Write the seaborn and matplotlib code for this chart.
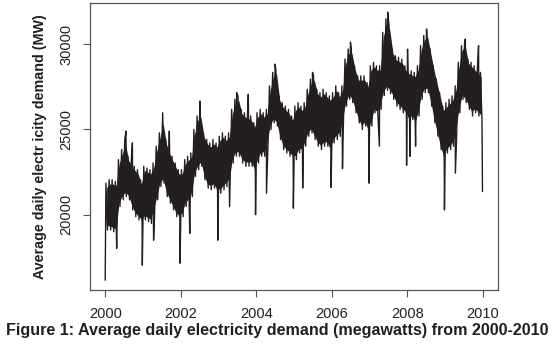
import numpy as np
import pandas as pd
import matplotlib
matplotlib.use("Agg")
import matplotlib.pyplot as plt
import matplotlib.dates as mdates
import seaborn as sns

# monthly envelope of the daily series (MW), Jan 2000 .. Dec 2009
upper_vals = [
    21850, 22050, 22050, 21950, 23230, 23820, 24410, 23430, 23030, 22840, 22640, 22050,
    22840, 22740, 22640, 23030, 24020, 24800, 25590, 24410, 23820, 23430, 23030, 22640,
    22640, 23230, 23430, 23620, 25000, 25790, 25980, 24800, 24410, 24210, 24410, 24210,
    24600, 24800, 24600, 24800, 26180, 26770, 26970, 26180, 25980, 25890, 25790, 25390,
    25980, 26180, 25980, 26180, 27560, 28350, 28540, 26970, 26570, 26370, 26180, 25790,
    26370, 26570, 26370, 26570, 27360, 27950, 28150, 27360, 27160, 27360, 27160, 26970,
    27160, 27560, 27160, 27560, 29130, 29720, 29720, 28740, 28150, 28150, 28150, 27750,
    28740, 28940, 28740, 28740, 30700, 31490, 31100, 29720, 29330, 29230, 29130, 28740,
    28540, 28440, 28350, 28740, 29920, 30510, 30700, 29720, 28740, 27950, 27160, 26370,
    26570, 26770, 26970, 27560, 28940, 29920, 30120, 29130, 28940, 28740, 28540, 28350,
]
lower_vals = [
    19100, 19100, 19000, 18900, 20480, 20870, 21060, 20870, 20280, 19880, 19690, 19490,
    19690, 19590, 19490, 20080, 20870, 21650, 21850, 21060, 20670, 20280, 19880, 19690,
    19880, 20480, 20670, 21060, 22250, 22640, 22840, 22050, 21560, 21460, 21560, 21260,
    21260, 21460, 21650, 21850, 23030, 23430, 23430, 23030, 22840, 22840, 22840, 22450,
    23030, 23430, 23430, 24020, 25000, 25390, 25200, 24410, 23820, 23620, 23430, 23230,
    23230, 23620, 23620, 24020, 24600, 24800, 24410, 24020, 23820, 24020, 24020, 23620,
    24210, 24410, 24600, 25390, 26370, 26770, 26570, 25980, 25390, 25000, 25200, 24800,
    25200, 25980, 25790, 26180, 27000, 27300, 27100, 26770, 26370, 26180, 25980, 25790,
    25390, 25590, 25200, 25790, 26770, 27160, 27160, 26370, 25390, 24600, 23820, 23230,
    23620, 23820, 24020, 24800, 25980, 26770, 26570, 26180, 25790, 25980, 25790, 25590,
]

# single-day spikes (holidays and peak days)
spike_dates = [
    "2000-01-01", "2000-04-21", "2000-07-20", "2000-09-20", "2000-12-25",
    "2001-04-13", "2001-07-10", "2001-09-12", "2001-12-25",
    "2002-03-29", "2002-07-05", "2002-12-25",
    "2003-04-18", "2003-06-25", "2003-10-16", "2003-12-25",
    "2004-04-09", "2004-07-01", "2004-12-25",
    "2005-03-25", "2005-06-28", "2005-12-25",
    "2006-04-14", "2006-06-30", "2006-12-25",
    "2007-04-06", "2007-06-25", "2007-12-25",
    "2008-01-03", "2008-01-26", "2008-03-21", "2008-07-05", "2008-12-25",
    "2009-04-10", "2009-07-15", "2009-11-20", "2009-12-28",
]
spike_vals = [
    16150, 18020, 24900, 24210, 17030,
    18500, 25980, 24900, 17150,
    18900, 26670, 18500,
    20470, 27160, 27070, 20000,
    21260, 28840, 20380,
    21560, 28350, 21600,
    22700, 30120, 21850,
    24020, 31890, 22900,
    29720, 23420, 24020, 30900, 20280,
    22440, 30310, 29920, 21360,
]

INK = "#231f20"


def main() -> None:
    months = pd.date_range("2000-01-01", "2009-12-01", freq="MS")
    env = pd.concat([
        pd.DataFrame({"date": months + pd.Timedelta(days=7), "demand": upper_vals}),
        pd.DataFrame({"date": months + pd.Timedelta(days=22), "demand": lower_vals}),
        pd.DataFrame({"date": pd.to_datetime(spike_dates), "demand": spike_vals}),
    ]).sort_values("date").reset_index(drop=True)
    band = pd.DataFrame({"date": months + pd.Timedelta(days=14),
                         "upper": upper_vals, "lower": lower_vals})

    sns.set_style("ticks")
    plt.rcParams["font.family"] = ["Liberation Sans", "DejaVu Sans"]

    fig = plt.figure(figsize=(5.55, 3.48), dpi=100)
    ax = fig.add_axes([90 / 555, 1 - 290 / 348, 408 / 555, 287 / 348])
    ax.fill_between(band["date"], band["lower"] + 250, band["upper"] - 250,
                    color=INK, linewidth=0)
    sns.lineplot(data=env, x="date", y="demand", ax=ax, estimator=None, sort=True,
                 color=INK, linewidth=1.0)

    ax.set_xlim(pd.Timestamp("1999-08-07"), pd.Timestamp("2010-05-27"))
    ax.set_ylim(15576, 32424)
    ax.xaxis.set_major_locator(mdates.YearLocator(2))
    ax.xaxis.set_major_formatter(mdates.DateFormatter("%Y"))
    ax.set_yticks([20000, 25000, 30000])
    for lbl in ax.get_yticklabels():
        lbl.set_rotation(90)
        lbl.set_va("center")
    ax.tick_params(axis="both", length=5, width=0.8, color="#555555",
                   labelsize=10.5, labelcolor=INK, pad=7)
    for sp in ax.spines.values():
        sp.set_visible(True)
        sp.set_color("#555555")
        sp.set_linewidth(0.9)

    ax.set_xlabel("")
    ax.set_ylabel("Average daily electr icity demand (MW)", fontsize=10.3,
                  fontweight="bold", color=INK, labelpad=9)
    fig.text(0.5, 1 - 331 / 348,
             "Figure 1: Average daily electricity demand (megawatts) from 2000-2010",
             ha="center", va="center", fontsize=11.6, fontweight="bold", color=INK)

    fig.savefig("out.png", dpi=100)


if __name__ == "__main__":
    main()
